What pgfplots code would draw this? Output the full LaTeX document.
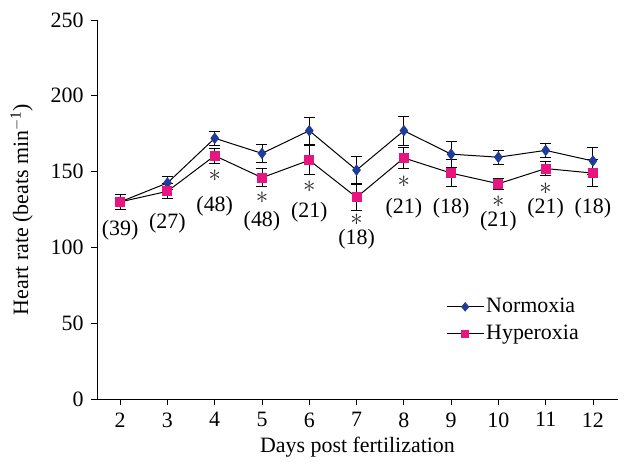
\documentclass[border=0pt]{standalone}
\usepackage{pgfplots}
\pgfplotsset{compat=1.18}
\usepackage{fontspec}
\setmainfont{Liberation Serif}
\definecolor{nblue}{HTML}{1F3C9B}
\definecolor{hpink}{HTML}{E6157F}

\pgfplotstableread{
x y e
2 130 5
3 142.5 4
4 172 4.5
5 162 6
6 177 9
7 151 9
8 177 9.5
9 161.5 8.5
10 159.5 4.5
11 164 4.5
12 157 9
}\normoxia

\pgfplotstableread{
x y e
2 130 5
3 137 5
4 160.5 5
5 146 6
6 157.5 9.5
7 133 8.5
8 159 7
9 149 9
10 142 3.5
11 152 4.5
12 149 9
}\hyperoxia

\begin{document}
\fontsize{22}{26}\selectfont
\begin{tikzpicture}
\tikzset{star/.style={font=\fontsize{30}{30}\selectfont, text=black!85, inner sep=0pt}}
\begin{axis}[
  scale only axis,
  width=521bp, height=379bp,
  xmin=1.51, xmax=12.53, ymin=0, ymax=250,
  axis lines=left, axis line style={-, line width=0.8pt},
  xtick={2,...,12}, ytick={0,50,...,250},
  tick align=outside, major tick length=6bp,
  tick style={black, line width=0.8pt},
  xlabel={Days post fertilization},
  ylabel={Heart rate (beats min\textsuperscript{$-$1})},
  every axis label/.append style={font=\fontsize{22}{26}\selectfont},
  tick label style={font=\fontsize{22}{26}\selectfont},
  /pgf/number format/assume math mode=true,
  xlabel style={yshift=5bp},
  ylabel style={yshift=3bp},
  legend style={draw=none, fill=none, at={(0.668,0.275)}, anchor=north west,
    font=\fontsize{22}{26}\selectfont, row sep=5bp, inner sep=1pt,
    nodes={inner sep=2bp}},
  legend cell align=left,
  clip=false,
]
\addplot[black, line width=1pt, mark=diamond*, mark size=5bp,
  mark options={fill=nblue, draw=nblue},
  legend image code/.code={
    \draw[black, line width=1pt] (0bp,0bp) -- (37bp,0bp);
    \fill[nblue] (15bp,0bp) -- (18.5bp,4bp) -- (22bp,0bp) -- (18.5bp,-4bp) -- cycle;},
  error bars/.cd, y dir=both, y explicit,
  error bar style={black, line width=1pt},
  error mark options={black, rotate=90, mark size=5.5bp, line width=1pt}]
  table[x=x, y=y, y error=e] {\normoxia};
\addlegendentry{Normoxia}
\addplot[black, line width=1pt, mark=square*, mark size=4.5bp,
  mark options={fill=hpink, draw=hpink},
  legend image code/.code={
    \draw[black, line width=1pt] (0bp,0bp) -- (37bp,0bp);
    \fill[hpink] (15bp,-3.5bp) rectangle (22bp,3.5bp);},
  error bars/.cd, y dir=both, y explicit,
  error bar style={black, line width=1pt},
  error mark options={black, rotate=90, mark size=5.5bp, line width=1pt}]
  table[x=x, y=y, y error=e] {\hyperoxia};
\addlegendentry{Hyperoxia}

\node at (axis cs:2,111.5) {(39)};
\node at (axis cs:3,116) {(27)};
\node at (axis cs:4,127) {(48)};
\node at (axis cs:5,117) {(48)};
\node at (axis cs:6,123) {(21)};
\node at (axis cs:7,105.5) {(18)};
\node at (axis cs:8,126) {(21)};
\node at (axis cs:9,126) {(18)};
\node at (axis cs:10,117) {(21)};
\node at (axis cs:11,126) {(21)};
\node at (axis cs:12,126) {(18)};
\node[star] at (axis cs:4,147) {$\ast$};
\node[star] at (axis cs:5,133) {$\ast$};
\node[star] at (axis cs:6,140) {$\ast$};
\node[star] at (axis cs:7,118) {$\ast$};
\node[star] at (axis cs:8,143) {$\ast$};
\node[star] at (axis cs:10,130) {$\ast$};
\node[star] at (axis cs:11,139) {$\ast$};
\end{axis}
\path (current axis.south west) ++(-97bp,-65bp) rectangle ++(626bp,464bp);
\end{tikzpicture}
\end{document}
